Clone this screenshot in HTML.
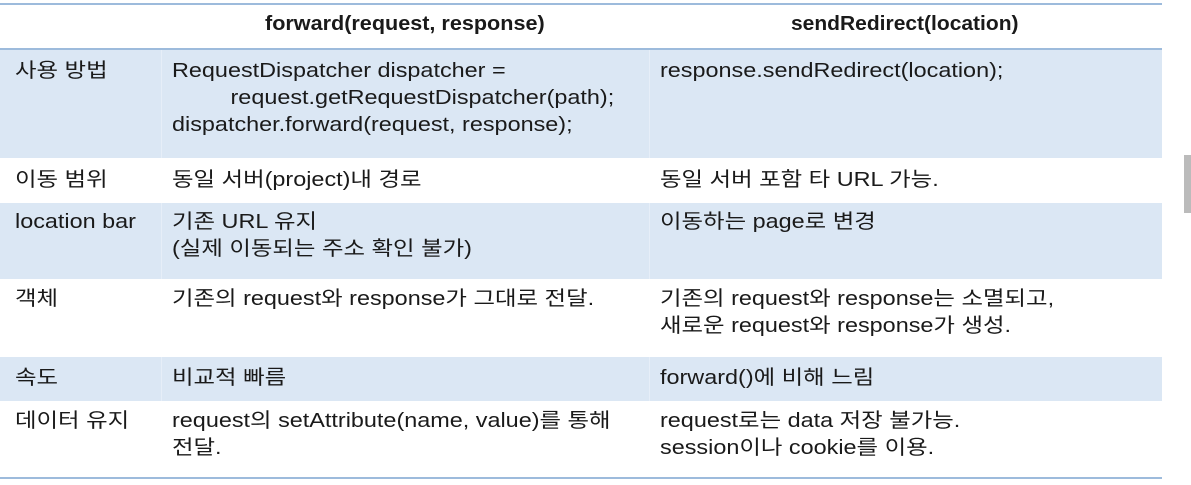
<!DOCTYPE html>
<html><head><meta charset="utf-8"><style>
body{margin:0;width:1191px;height:485px;background:#fff;position:relative;overflow:hidden;font-family:"Liberation Sans","Noto Sans CJK KR",sans-serif;color:#1a1a1a;font-size:20px}
.r{position:absolute;left:0;width:1162px}
.b{background:#dbe7f4}
.t{position:absolute;line-height:27px;white-space:nowrap;transform:scaleX(1.17);transform-origin:0 0}
.h{position:absolute;white-space:nowrap;font-weight:bold;font-size:20px;line-height:27px;transform:scaleX(1.08);transform-origin:0 0}
.ln{position:absolute;left:0;width:1162px;height:2px;background:#9dbbdc}
.sep{position:absolute;width:1px;background:#e6eef8}
</style></head><body>
<div class="ln" style="top:3px"></div>
<div class="ln" style="top:48px"></div>
<div class="r b" style="top:50px;height:108px"></div>
<div class="r b" style="top:203px;height:76px"></div>
<div class="r b" style="top:357px;height:44px"></div>
<div class="ln" style="top:477px"></div>
<div class="sep" style="left:161px;top:50px;height:108px"></div>
<div class="sep" style="left:161px;top:203px;height:76px"></div>
<div class="sep" style="left:161px;top:357px;height:44px"></div>
<div class="sep" style="left:649px;top:50px;height:108px"></div>
<div class="sep" style="left:649px;top:203px;height:76px"></div>
<div class="sep" style="left:649px;top:357px;height:44px"></div>
<div style="position:absolute;left:1184px;top:155px;width:7px;height:58px;background:#bbb"></div>

<div class="h" style="left:265px;top:11px">forward(request, response)</div>
<div class="h" style="left:791px;top:11px;transform:scaleX(1.05)">sendRedirect(location)</div>

<div class="t" style="left:15px;top:58px">사용 방법</div>
<div class="t" style="left:172px;top:58px">RequestDispatcher dispatcher =<br>&nbsp;&nbsp;&nbsp;&nbsp;&nbsp;&nbsp;&nbsp;&nbsp;&nbsp;request.getRequestDispatcher(path);<br>dispatcher.forward(request, response);</div>
<div class="t" style="left:660px;top:58px">response.sendRedirect(location);</div>

<div class="t" style="left:15px;top:167px">이동 범위</div>
<div class="t" style="left:172px;top:167px">동일 서버(project)내 경로</div>
<div class="t" style="left:660px;top:167px">동일 서버 포함 타 URL 가능.</div>

<div class="t" style="left:15px;top:209px">location bar</div>
<div class="t" style="left:172px;top:209px">기존 URL 유지<br>(실제 이동되는 주소 확인 불가)</div>
<div class="t" style="left:660px;top:209px">이동하는 page로 변경</div>

<div class="t" style="left:15px;top:286px">객체</div>
<div class="t" style="left:172px;top:286px">기존의 request와 response가 그대로 전달.</div>
<div class="t" style="left:660px;top:286px">기존의 request와 response는 소멸되고,<br>새로운 request와 response가 생성.</div>

<div class="t" style="left:15px;top:365px">속도</div>
<div class="t" style="left:172px;top:365px">비교적 빠름</div>
<div class="t" style="left:660px;top:365px">forward()에 비해 느림</div>

<div class="t" style="left:15px;top:408px">데이터 유지</div>
<div class="t" style="left:172px;top:408px">request의 setAttribute(name, value)를 통해<br>전달.</div>
<div class="t" style="left:660px;top:408px">request로는 data 저장 불가능.<br>session이나 cookie를 이용.</div>
</body></html>
